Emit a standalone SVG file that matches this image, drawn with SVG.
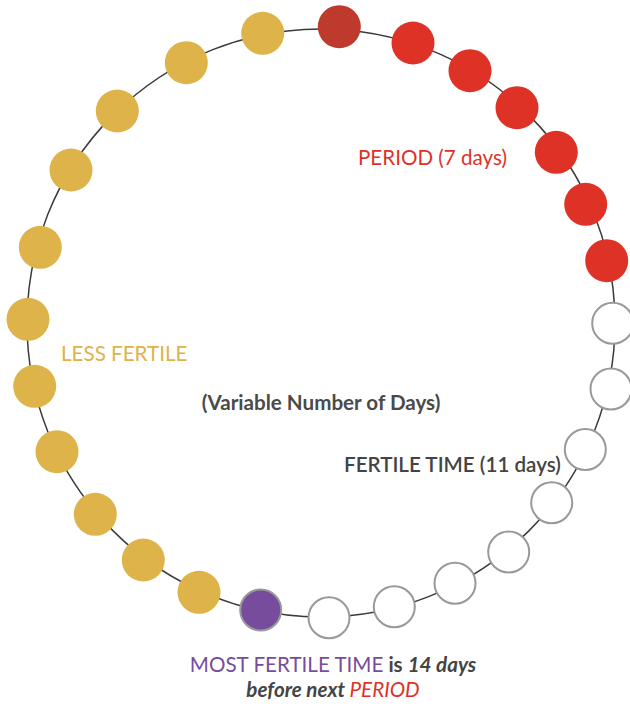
<svg xmlns="http://www.w3.org/2000/svg" width="630" height="707" viewBox="0 0 630 707">
<style>
.ring{fill:none;stroke:#3a3a3a;stroke-width:1.5}
.y{fill:#DDB34A}
.r{fill:#DE3226}
.dr{fill:#BE3A2D}
.p{fill:#774C9D;stroke:#999;stroke-width:2}
.w{fill:#fff;stroke:#999;stroke-width:2}
text{font-family:Lato,"Open Sans","Liberation Sans",sans-serif;font-size:20.6px}
</style>
<rect width="630" height="707" fill="#fff"/>
<g id="connectors">
<circle class="ring" cx="321" cy="323" r="294"/>
</g>
<g id="days">
<circle id="d1" class="dr" cx="339.3" cy="26.7" r="21.5"/>
<circle id="d2" class="r" cx="413" cy="43" r="21.5"/>
<circle id="d3" class="r" cx="470" cy="70.7" r="21.5"/>
<circle id="d4" class="r" cx="517" cy="107.7" r="21.5"/>
<circle id="d5" class="r" cx="556.3" cy="152.3" r="21.5"/>
<circle id="d6" class="r" cx="585.7" cy="204.3" r="21.5"/>
<circle id="d7" class="r" cx="606.7" cy="260.7" r="21.5"/>
<circle id="d8" class="w" cx="612.7" cy="323.3" r="20.5"/>
<circle id="d9" class="w" cx="611" cy="389" r="20.5"/>
<circle id="d10" class="w" cx="585.3" cy="449.5" r="20.5"/>
<circle id="d11" class="w" cx="551.7" cy="502.7" r="20.5"/>
<circle id="d12" class="w" cx="508.7" cy="552" r="20.5"/>
<circle id="d13" class="w" cx="455" cy="583.3" r="20.5"/>
<circle id="d14" class="w" cx="394.3" cy="606.7" r="20.5"/>
<circle id="d15" class="w" cx="329" cy="617.7" r="20.5"/>
<circle id="d16" class="p" cx="260.7" cy="610" r="20.5"/>
<circle id="d17" class="y" cx="199" cy="592.3" r="21.5"/>
<circle id="d18" class="y" cx="143.3" cy="560" r="21.5"/>
<circle id="d19" class="y" cx="95.3" cy="514.3" r="21.5"/>
<circle id="d20" class="y" cx="57" cy="451.7" r="21.5"/>
<circle id="d21" class="y" cx="34.7" cy="386.3" r="21.5"/>
<circle id="d22" class="y" cx="28" cy="319.3" r="21.5"/>
<circle id="d23" class="y" cx="40.3" cy="247.3" r="21.5"/>
<circle id="d24" class="y" cx="71" cy="170" r="21.5"/>
<circle id="d25" class="y" cx="117.3" cy="111" r="21.5"/>
<circle id="d26" class="y" cx="186.3" cy="62.7" r="21.5"/>
<circle id="d27" class="y" cx="262.7" cy="33.3" r="21.5"/>
</g>
<g id="labels">
<text x="358" y="165" fill="#DE3226">PERIOD (7 days)</text>
<text x="61" y="361" fill="#DDB34A">LESS FERTILE</text>
<text x="321" y="410" fill="#4a4a4a" font-weight="bold" text-anchor="middle">(Variable Number of Days)</text>
<text x="344" y="472" fill="#444" font-weight="600">FERTILE TIME (11 days)</text>
<text x="333" y="672" text-anchor="middle"><tspan fill="#774C9D">MOST FERTILE TIME</tspan><tspan fill="#444" font-weight="bold"> is </tspan><tspan fill="#444" font-weight="bold" font-style="italic">14 days</tspan></text>
<text x="333" y="697" text-anchor="middle" font-weight="bold" font-style="italic"><tspan fill="#444">before next </tspan><tspan fill="#DE3226" font-weight="normal">PERIOD</tspan></text>
</g>
</svg>
